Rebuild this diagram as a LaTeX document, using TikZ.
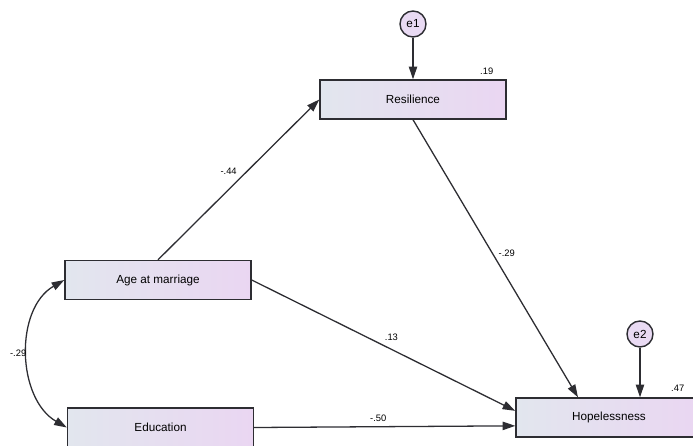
\documentclass[tikz,border=0pt]{standalone}
\usepackage{fontspec}
\setmainfont{Liberation Sans}
\usetikzlibrary{arrows.meta,positioning,calc}
\definecolor{BoxLeft}{RGB}{226,230,238}
\definecolor{BoxRight}{RGB}{234,214,242}
\definecolor{ErrFill}{RGB}{233,218,243}
\definecolor{LineGray}{RGB}{45,45,50}

\begin{document}
\begin{tikzpicture}[x=0.03cm,y=-0.03cm,
 var/.style={draw=LineGray,line width=1.2pt,left color=BoxLeft,right color=BoxRight,
 minimum width=5.58cm,minimum height=1.17cm,inner sep=0pt,font=\fontsize{10}{12}\selectfont},
 err/.style={circle,draw=LineGray,line width=1.2pt,fill=ErrFill,minimum size=0.78cm,
 inner sep=0pt,font=\fontsize{10}{12}\selectfont},
 coef/.style={font=\fontsize{8}{10}\selectfont,inner sep=1pt},
 effect/.style={-{Triangle[length=3.8mm,width=2.5mm]},line width=1.1pt,draw=LineGray}]
\useasboundingbox (0,0) rectangle (693,446);
\node[err] (e1) at (413,24) {e1};
\node[var] (res) at (413,99.5) {Resilience};
\node[var] (age) at (158,280) {Age at marriage};
\node[var] (edu) at (160.5,427.5) {Education};
\node[var] (hop) at (609,417.5) {Hopelessness};
\node[err] (e2) at (640,334) {e2};
\node[coef] (r2res) at ($(res.north east)+(-20,-8)$) {.19};
\node[coef] (r2hop) at ($(hop.north east)+(-25,-9)$) {.47};
\draw[effect] (e1) -- (res);
\draw[effect] (e2) -- (e2 |- hop.north);
\draw[effect] (age.north) -- node[coef,pos=0.55,anchor=east,xshift=-7pt]{-.44} (res.west);
\draw[effect] (res.south) -- node[coef,pos=0.48,anchor=west,xshift=4pt]{-.29} ([xshift=-0.93cm]hop.north);
\draw[effect] (age.east) -- node[coef,pos=0.53,above=6pt]{.13} ([yshift=0.2cm]hop.west);
\draw[effect] (edu.east) -- node[coef,pos=0.475,above=3pt]{-.50} ([yshift=-0.25cm]hop.west);
\draw[effect,{Triangle[length=3.8mm,width=2.5mm]}-{Triangle[length=3.8mm,width=2.5mm]}]
 (age.west) to[out=210,in=150] node[coef,left=0pt]{-.29} (edu.west);
\end{tikzpicture}
\end{document}
